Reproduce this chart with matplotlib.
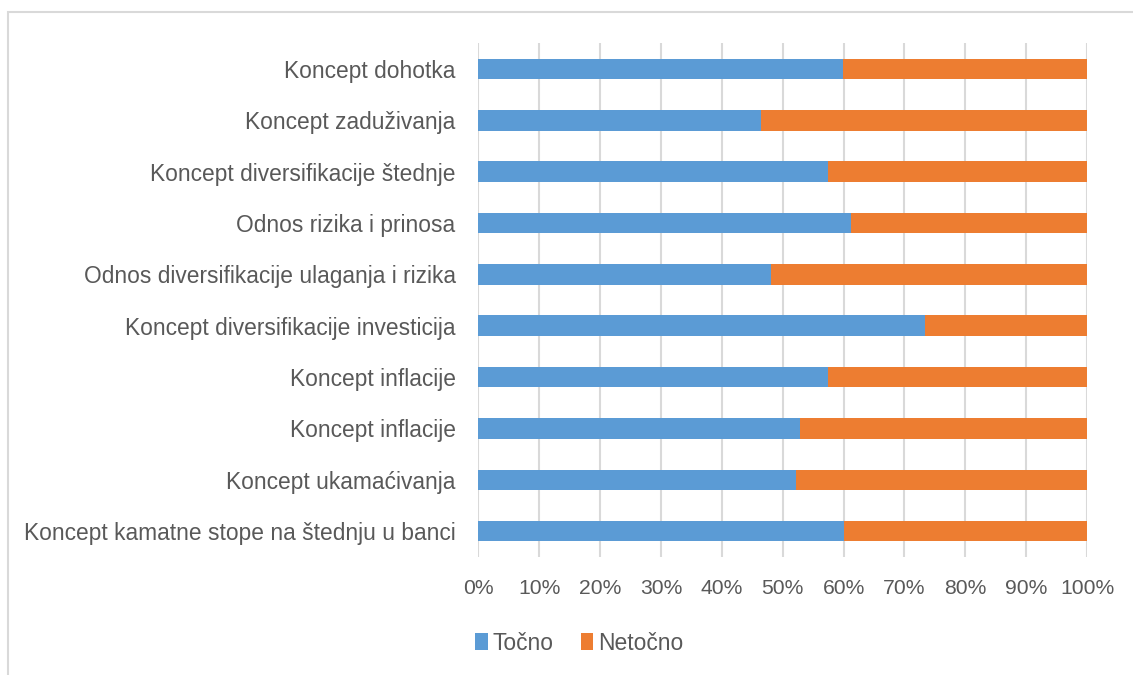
import numpy as np
import matplotlib
matplotlib.use('Agg')
from matplotlib import pyplot as plt
from matplotlib.patches import Rectangle

categories = ['Koncept kamatne stope na štednju u banci', 'Koncept ukamaćivanja', 'Koncept inflacije',
              'Koncept inflacije', 'Koncept diversifikacije investicija',
              'Odnos diversifikacije ulaganja i rizika', 'Odnos rizika i prinosa',
              'Koncept diversifikacije štednje', 'Koncept zaduživanja', 'Koncept dohotka']
tocno = [60.0, 52.2, 52.8, 57.4, 73.3, 48.1, 61.3, 57.4, 46.4, 59.9]
netocno = [100 - v for v in tocno]
tick_vals = np.arange(0, 101, 10)
tick_labels = [f'{v}%' for v in tick_vals]

plt.rcParams['font.family'] = ['Liberation Sans', 'DejaVu Sans']
text_col = '#595959'

fig = plt.figure(figsize=(11.33, 6.75), dpi=100)
ax = fig.add_axes([0.4223, 0.175, 0.5371, 0.761])

y = np.arange(len(categories))
ax.barh(y, tocno, height=0.4, color='#5b9bd5', label='Točno', zorder=3)
ax.barh(y, netocno, left=tocno, height=0.4, color='#ed7d31', label='Netočno', zorder=3)

ax.set_xlim(0, 100)
ax.set_ylim(-0.5, len(categories) - 0.5)
ax.set_yticks(y)
ax.set_yticklabels(categories, fontsize=16.4, color=text_col)
ax.set_xticks(tick_vals)
ax.set_xticklabels(tick_labels, fontsize=15.2, color=text_col)
ax.tick_params(axis='both', length=0)
ax.tick_params(axis='x', pad=16)
ax.tick_params(axis='y', pad=16.5)
ax.grid(axis='x', color='#d9d9d9', linewidth=1.5, zorder=0)
for s in ax.spines.values():
    s.set_visible(False)

fig.legend(loc='center', bbox_to_anchor=(0.511, 0.047), ncol=2, frameon=False,
           fontsize=16.5, handlelength=0.55, handleheight=0.78, handletextpad=0.2,
           columnspacing=1.2, labelcolor=text_col)

fig.patches.append(Rectangle((8 / 1133, -0.01), 1.1, 1 - 12 / 675 + 0.01, transform=fig.transFigure,
                             fill=False, edgecolor='#d9d9d9', linewidth=1.5))

fig.savefig('out.png', dpi=100)
